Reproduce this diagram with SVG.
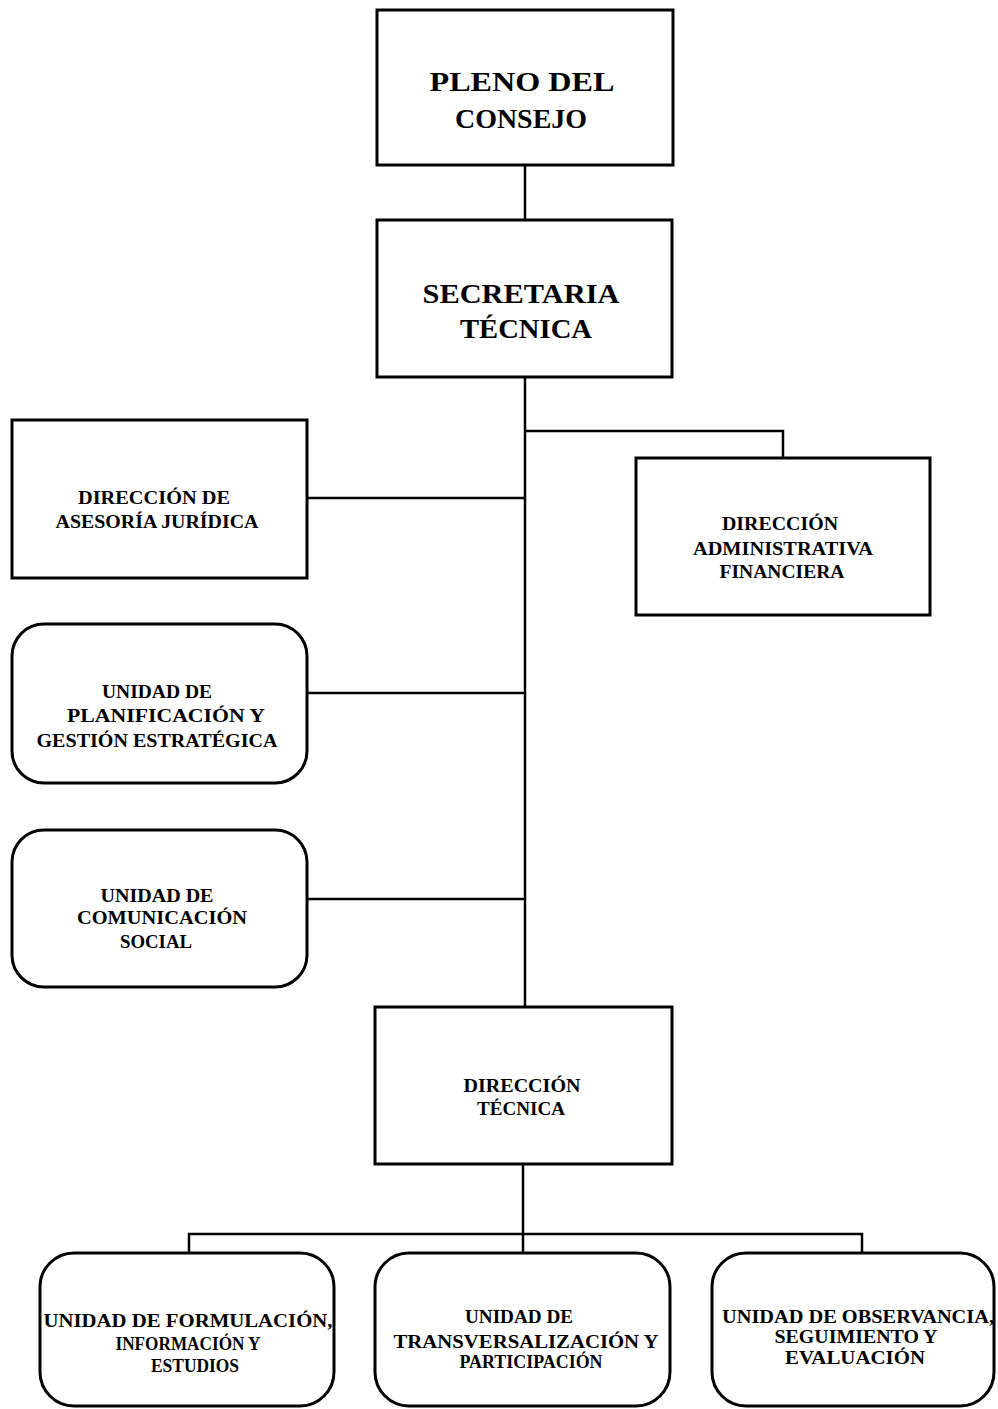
<svg xmlns="http://www.w3.org/2000/svg" width="998" height="1409" viewBox="0 0 998 1409">
<style>
.box{fill:#fff;stroke:#000;stroke-width:3}
.ln{fill:none;stroke:#000;stroke-width:2.5}
text{font-family:"Liberation Serif","Times New Roman",serif;font-weight:bold;fill:#000;text-anchor:middle}
.big{font-size:27px}
.sm{font-size:19px}
.xs{font-size:18px}
</style>
<rect width="998" height="1409" fill="#fff"/>
<g id="connectors">
<path class="ln" d="M525 165V220"/>
<path class="ln" d="M525 377V1007"/>
<path class="ln" d="M525 431H783V458"/>
<path class="ln" d="M307 498H525"/>
<path class="ln" d="M307 693H525"/>
<path class="ln" d="M307 899H525"/>
<path class="ln" d="M523 1164V1253"/>
<path class="ln" d="M189 1253V1234H862V1253"/>
</g>
<g id="pleno">
<rect class="box" x="377" y="10" width="296" height="155"/>
<text class="big" x="522" y="91" textLength="185" lengthAdjust="spacingAndGlyphs">PLENO DEL</text>
<text class="big" x="521" y="128" textLength="132" lengthAdjust="spacingAndGlyphs">CONSEJO</text>
</g>
<g id="secretaria">
<rect class="box" x="377" y="220" width="295" height="157"/>
<text class="big" x="521" y="303" textLength="197" lengthAdjust="spacingAndGlyphs">SECRETARIA</text>
<text class="big" x="526" y="338" textLength="132" lengthAdjust="spacingAndGlyphs">TÉCNICA</text>
</g>
<g id="asesoria">
<rect class="box" x="12" y="420" width="295" height="158"/>
<text class="sm" x="154" y="504" textLength="152" lengthAdjust="spacingAndGlyphs">DIRECCIÓN DE</text>
<text class="sm" x="157" y="528" textLength="203" lengthAdjust="spacingAndGlyphs">ASESORÍA JURÍDICA</text>
</g>
<g id="administrativa">
<rect class="box" x="636" y="458" width="294" height="157"/>
<text class="sm" x="780" y="530" textLength="116" lengthAdjust="spacingAndGlyphs">DIRECCIÓN</text>
<text class="sm" x="783" y="555" textLength="180" lengthAdjust="spacingAndGlyphs">ADMINISTRATIVA</text>
<text class="sm" x="782" y="578" textLength="125" lengthAdjust="spacingAndGlyphs">FINANCIERA</text>
</g>
<g id="planificacion">
<rect class="box" x="12" y="624" width="295" height="159" rx="32"/>
<text class="sm" x="157" y="698" textLength="110" lengthAdjust="spacingAndGlyphs">UNIDAD DE</text>
<text class="sm" x="166" y="722" textLength="198" lengthAdjust="spacingAndGlyphs">PLANIFICACIÓN Y</text>
<text class="sm" x="157" y="747" textLength="241" lengthAdjust="spacingAndGlyphs">GESTIÓN ESTRATÉGICA</text>
</g>
<g id="comunicacion">
<rect class="box" x="12" y="830" width="295" height="157" rx="32"/>
<text class="sm" x="157" y="902" textLength="113" lengthAdjust="spacingAndGlyphs">UNIDAD DE</text>
<text class="sm" x="162" y="924" textLength="170" lengthAdjust="spacingAndGlyphs">COMUNICACIÓN</text>
<text class="sm" x="156" y="948" textLength="72" lengthAdjust="spacingAndGlyphs">SOCIAL</text>
</g>
<g id="tecnica">
<rect class="box" x="375" y="1007" width="297" height="157"/>
<text class="sm" x="522" y="1092" textLength="117" lengthAdjust="spacingAndGlyphs">DIRECCIÓN</text>
<text class="sm" x="521" y="1115" textLength="88" lengthAdjust="spacingAndGlyphs">TÉCNICA</text>
</g>
<g id="formulacion">
<rect class="box" x="40" y="1253" width="294" height="153" rx="34"/>
<text class="xs" x="188" y="1327" textLength="289" lengthAdjust="spacingAndGlyphs">UNIDAD DE FORMULACIÓN,</text>
<text class="xs" x="188" y="1350" textLength="145" lengthAdjust="spacingAndGlyphs">INFORMACIÓN Y</text>
<text class="xs" x="195" y="1372" textLength="88" lengthAdjust="spacingAndGlyphs">ESTUDIOS</text>
</g>
<g id="transversalizacion">
<rect class="box" x="375" y="1253" width="295" height="153" rx="34"/>
<text class="xs" x="519" y="1323" textLength="108" lengthAdjust="spacingAndGlyphs">UNIDAD DE</text>
<text class="xs" x="526" y="1348" textLength="265" lengthAdjust="spacingAndGlyphs">TRANSVERSALIZACIÓN Y</text>
<text class="xs" x="531" y="1368" textLength="143" lengthAdjust="spacingAndGlyphs">PARTICIPACIÓN</text>
</g>
<g id="observancia">
<rect class="box" x="712" y="1253" width="282" height="153" rx="34"/>
<text class="xs" x="858" y="1323" textLength="272" lengthAdjust="spacingAndGlyphs">UNIDAD DE OBSERVANCIA,</text>
<text class="xs" x="856" y="1343" textLength="163" lengthAdjust="spacingAndGlyphs">SEGUIMIENTO Y</text>
<text class="xs" x="855" y="1364" textLength="140" lengthAdjust="spacingAndGlyphs">EVALUACIÓN</text>
</g>
</svg>
